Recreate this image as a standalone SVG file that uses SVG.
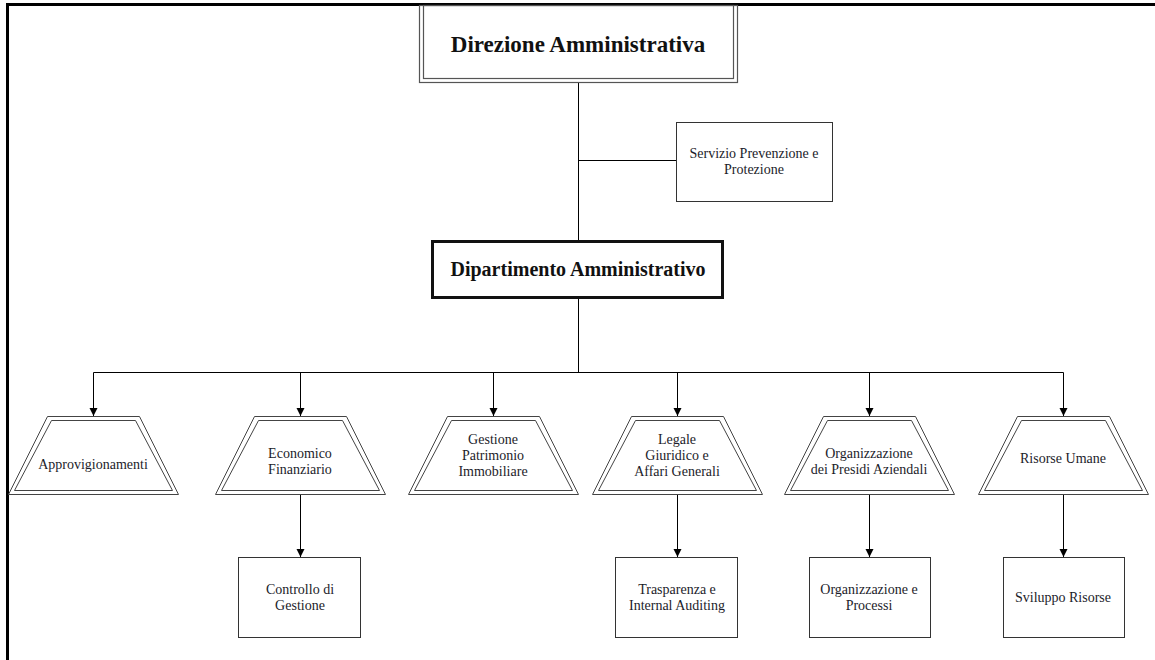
<svg xmlns="http://www.w3.org/2000/svg" width="1155" height="660" viewBox="0 0 1155 660">
  <style>
    .ln { fill: none; stroke: #000; stroke-width: 1; }
    .box { fill: #fff; stroke: #333; stroke-width: 1; }
    .dbl { fill: #fff; stroke: #444; stroke-width: 1; }
    .t { font-family: "Liberation Serif", "Times New Roman", serif; font-size: 14px; fill: #1c1c2a; text-anchor: middle; }
    .tb { font-family: "Liberation Serif", "Times New Roman", serif; font-weight: bold; fill: #111; text-anchor: middle; }
  </style>
  <defs>
    <marker id="arr" viewBox="0 0 8 10" refX="8" refY="5" markerWidth="8" markerHeight="10" markerUnits="userSpaceOnUse" orient="auto">
      <path d="M0,1 L8,5 L0,9 Z" fill="#000"/>
    </marker>
    <!-- double-line trapezoid, centred on x = 0, top at y = 0 -->
    <g id="trap">
      <polygon class="dbl" points="-46,0 46,0 85,78 -85,78"/>
      <polygon class="dbl" points="-42,4 42,4 79,74 -79,74"/>
    </g>
  </defs>
  <rect width="1155" height="660" fill="#fff"/>

  <!-- page frame -->
  <path d="M7.5,660 V4.5 H1155" fill="none" stroke="#000" stroke-width="3"/>

  <!-- connectors -->
  <g id="connectors">
    <path class="ln" d="M578.5,82 V241"/>
    <path class="ln" d="M578.5,160.5 H676"/>
    <path class="ln" d="M578.5,298 V372.5"/>
    <path class="ln" d="M93.5,372.5 H1063.5"/>
    <path class="ln" d="M93.5,372.5 V416" marker-end="url(#arr)"/>
    <path class="ln" d="M300.5,372.5 V416" marker-end="url(#arr)"/>
    <path class="ln" d="M493.5,372.5 V416" marker-end="url(#arr)"/>
    <path class="ln" d="M677.5,372.5 V416" marker-end="url(#arr)"/>
    <path class="ln" d="M869.5,372.5 V416" marker-end="url(#arr)"/>
    <path class="ln" d="M1063.5,372.5 V416" marker-end="url(#arr)"/>
    <path class="ln" d="M300.5,494 V557" marker-end="url(#arr)"/>
    <path class="ln" d="M677.5,494 V557" marker-end="url(#arr)"/>
    <path class="ln" d="M869.5,494 V557" marker-end="url(#arr)"/>
    <path class="ln" d="M1063.5,494 V557" marker-end="url(#arr)"/>
  </g>

  <g id="direzione">
    <rect x="419.5" y="5.5" width="318" height="77" fill="#fff" stroke="#555" stroke-width="1.2"/>
    <rect x="423.5" y="5.5" width="310" height="73" fill="none" stroke="#555" stroke-width="1.2"/>
    <text class="tb" x="578" y="52" font-size="23">Direzione Amministrativa</text>
  </g>

  <g id="spp">
    <rect class="box" x="676.5" y="122.5" width="156" height="79"/>
    <text class="t" x="754" y="158">Servizio Prevenzione e</text>
    <text class="t" x="754" y="174">Protezione</text>
  </g>

  <g id="dipartimento">
    <rect x="432.5" y="241.5" width="290" height="56" fill="#fff" stroke="#111" stroke-width="3"/>
    <text class="tb" x="578" y="276" font-size="20">Dipartimento Amministrativo</text>
  </g>

  <g id="approvigionamenti">
    <use href="#trap" x="93.5" y="416.5"/>
    <text class="t" x="93" y="469">Approvigionamenti</text>
  </g>

  <g id="economico">
    <use href="#trap" x="300.5" y="416.5"/>
    <text class="t" x="300" y="458">Economico</text>
    <text class="t" x="300" y="474">Finanziario</text>
  </g>

  <g id="patrimonio">
    <use href="#trap" x="493.5" y="416.5"/>
    <text class="t" x="493" y="444">Gestione</text>
    <text class="t" x="493" y="460">Patrimonio</text>
    <text class="t" x="493" y="476">Immobiliare</text>
  </g>

  <g id="legale">
    <use href="#trap" x="677.5" y="416.5"/>
    <text class="t" x="677" y="444">Legale</text>
    <text class="t" x="677" y="460">Giuridico e</text>
    <text class="t" x="677" y="476">Affari Generali</text>
  </g>

  <g id="presidi">
    <use href="#trap" x="869.5" y="416.5"/>
    <text class="t" x="869" y="458">Organizzazione</text>
    <text class="t" x="869" y="474">dei Presidi Aziendali</text>
  </g>

  <g id="risorse">
    <use href="#trap" x="1063.5" y="416.5"/>
    <text class="t" x="1063" y="463">Risorse Umane</text>
  </g>

  <g id="controllo">
    <rect class="box" x="238.5" y="557.5" width="122" height="80"/>
    <text class="t" x="300" y="594">Controllo di</text>
    <text class="t" x="300" y="610">Gestione</text>
  </g>

  <g id="trasparenza">
    <rect class="box" x="615.5" y="557.5" width="122" height="80"/>
    <text class="t" x="677" y="594">Trasparenza e</text>
    <text class="t" x="677" y="610">Internal Auditing</text>
  </g>

  <g id="processi">
    <rect class="box" x="809.5" y="557.5" width="121" height="80"/>
    <text class="t" x="869" y="594">Organizzazione e</text>
    <text class="t" x="869" y="610">Processi</text>
  </g>

  <g id="sviluppo">
    <rect class="box" x="1003.5" y="557.5" width="121" height="80"/>
    <text class="t" x="1063" y="602">Sviluppo Risorse</text>
  </g>
</svg>
